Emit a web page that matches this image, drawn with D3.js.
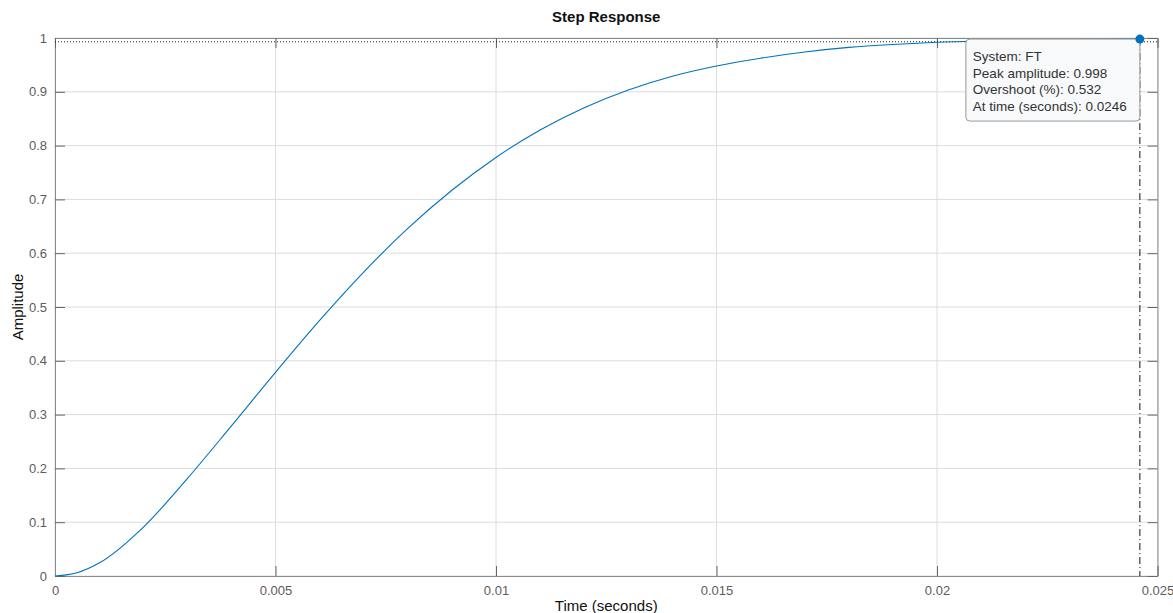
<!DOCTYPE html>
<html>
<head>
<meta charset="utf-8">
<script src="https://cdn.jsdelivr.net/npm/d3@7"></script>
<style>
  body { margin: 0; background: #fff; }
  text { font-family: "Liberation Sans", Arial, sans-serif; }
</style>
</head>
<body>
<div id="plot"></div>
<script>
// step response (roughly one point per ms)
var time_s    = [0, 0.0005, 0.001, 0.002, 0.003, 0.004, 0.005, 0.006, 0.007, 0.008, 0.009,
                 0.010, 0.011, 0.012, 0.013, 0.014, 0.015, 0.016, 0.017, 0.018, 0.019,
                 0.020, 0.021, 0.022, 0.023, 0.024, 0.0246];
var amplitude = [0, 0.006, 0.024, 0.0905, 0.181, 0.279, 0.3785, 0.475, 0.565, 0.646, 0.717,
                 0.778, 0.829, 0.8705, 0.9035, 0.929, 0.948, 0.9625, 0.974, 0.9825, 0.988,
                 0.992, 0.9945, 0.996, 0.997, 0.9978, 0.998];

var x_ticks = [0, 0.005, 0.01, 0.015, 0.02, 0.025];
var y_ticks = [0, 0.1, 0.2, 0.3, 0.4, 0.5, 0.6, 0.7, 0.8, 0.9, 1];

var final_value = 0.993;
var peak_time   = 0.0246;
var peak_amp    = 0.998;
var tip_lines   = ["System: FT", "Peak amplitude: 0.998", "Overshoot (%): 0.532", "At time (seconds): 0.0246"];

var width  = 1173;
var height = 613;
// plot box in pixels (note: "top" is a reserved window global, so prefix these)
var ax_left = 55, ax_right = 1157.5, ax_top = 38, ax_bottom = 576;

var svg = d3.select("#plot").append("svg")
    .attr("width", width)
    .attr("height", height);

var x_scale = d3.scaleLinear().domain([0, 0.025]).range([ax_left, ax_right]);
var y_scale = d3.scaleLinear().domain([0, 1]).range([ax_bottom, ax_top]);

// grid
svg.append("g").selectAll("line").data(x_ticks).enter().append("line")
    .attr("x1", d => x_scale(d)).attr("x2", d => x_scale(d))
    .attr("y1", ax_top).attr("y2", ax_bottom)
    .attr("stroke", "#dcdcdc").attr("stroke-width", 1);
svg.append("g").selectAll("line").data(y_ticks).enter().append("line")
    .attr("x1", ax_left).attr("x2", ax_right)
    .attr("y1", d => y_scale(d)).attr("y2", d => y_scale(d))
    .attr("stroke", "#dcdcdc").attr("stroke-width", 1);

// axes, ticks pointing inward, on all four sides
var fmt = d3.format("");
var xAxis = d3.axisBottom(x_scale).tickValues(x_ticks).tickSize(-10).tickPadding(10).tickFormat(fmt);
var yAxis = d3.axisLeft(y_scale).tickValues(y_ticks).tickSize(-10).tickPadding(8).tickFormat(fmt);

svg.append("g").attr("class", "axis")
    .attr("transform", "translate(0," + ax_bottom + ")").call(xAxis);
svg.append("g").attr("class", "axis")
    .attr("transform", "translate(" + ax_left + ",0)").call(yAxis);
svg.append("g").attr("class", "axis")
    .attr("transform", "translate(0," + ax_top + ")")
    .call(d3.axisTop(x_scale).tickValues(x_ticks).tickSize(-10).tickFormat(""));
svg.append("g").attr("class", "axis")
    .attr("transform", "translate(" + ax_right + ",0)")
    .call(d3.axisRight(y_scale).tickValues(y_ticks).tickSize(-10).tickFormat(""));

svg.selectAll(".axis path").attr("stroke", "#8a8a8a");
svg.selectAll(".axis line").attr("stroke", "#666");
svg.selectAll(".axis text")
    .attr("fill", "#5c5c5c")
    .style("font-size", "13px")
    .style("font-family", "'Liberation Sans', Arial, sans-serif");

// final value line
svg.append("line")
    .attr("x1", ax_left).attr("x2", ax_right)
    .attr("y1", y_scale(final_value)).attr("y2", y_scale(final_value))
    .attr("stroke", "#222").attr("stroke-width", 1)
    .attr("stroke-dasharray", "1,2");

// the response
var v_line = d3.line()
    .x((d, i) => x_scale(time_s[i]))
    .y(d => y_scale(d))
    .curve(d3.curveMonotoneX);

svg.append("path")
    .attr("d", v_line(amplitude))
    .attr("fill", "none")
    .attr("stroke", "#0072bd")
    .attr("stroke-width", 1.1);

// peak marker + dash-dot drop line
svg.append("line")
    .attr("x1", x_scale(peak_time)).attr("x2", x_scale(peak_time))
    .attr("y1", y_scale(peak_amp)).attr("y2", ax_bottom)
    .attr("stroke", "#111").attr("stroke-width", 1)
    .attr("stroke-dasharray", "7,3,1,3");

// datatip
var tip_w = 174, tip_h = 82;
var tip = svg.append("g")
    .attr("transform", "translate(" + (x_scale(peak_time) - tip_w) + "," + (y_scale(peak_amp)) + ")");
tip.append("rect")
    .attr("width", tip_w).attr("height", tip_h)
    .attr("rx", 4)
    .attr("fill", "#f8f9fb")
    .attr("stroke", "#9a9a9a");
tip.selectAll("text").data(tip_lines).enter().append("text")
    .attr("x", 7)
    .attr("y", (d, i) => 22 + i * 16.7)
    .attr("fill", "#333")
    .style("font-size", "13.5px")
    .text(d => d);

svg.append("circle")
    .attr("cx", x_scale(peak_time)).attr("cy", y_scale(peak_amp))
    .attr("r", 4.5)
    .attr("fill", "#0072bd");

// titles
svg.append("text")
    .attr("x", (ax_left + ax_right) / 2).attr("y", 22)
    .attr("text-anchor", "middle")
    .style("font-size", "15px").style("font-weight", "bold")
    .attr("fill", "#111")
    .text("Step Response");

svg.append("text")
    .attr("x", (ax_left + ax_right) / 2).attr("y", 611)
    .attr("text-anchor", "middle")
    .style("font-size", "15px")
    .attr("fill", "#111")
    .text("Time (seconds)");

svg.append("text")
    .attr("transform", "translate(23," + ((ax_top + ax_bottom) / 2) + ") rotate(-90)")
    .attr("text-anchor", "middle")
    .style("font-size", "15px")
    .attr("fill", "#111")
    .text("Amplitude");
</script>
</body>
</html>
